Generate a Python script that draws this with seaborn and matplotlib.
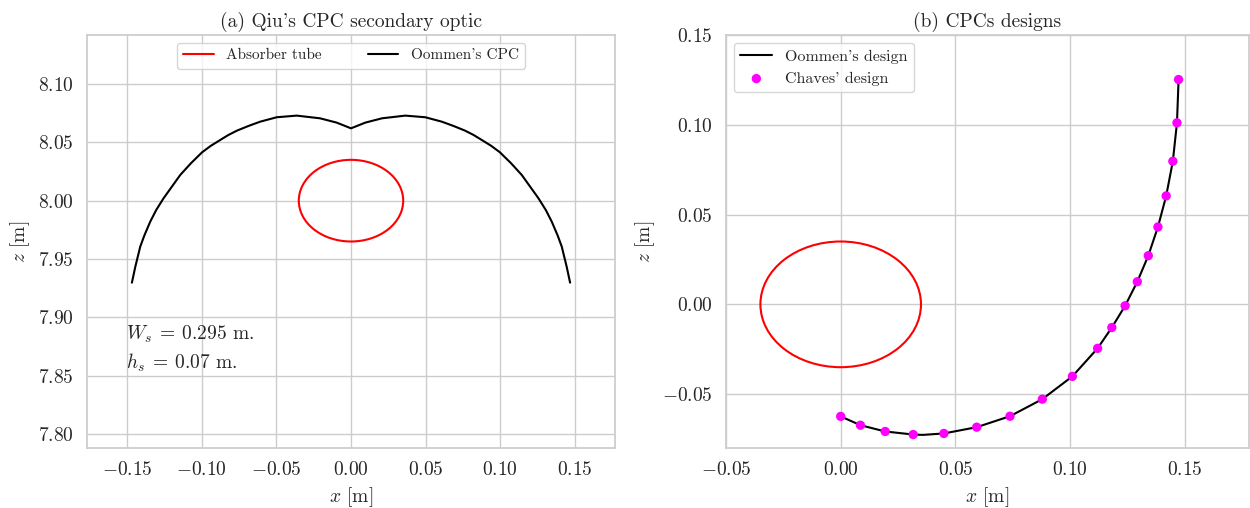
import numpy as np
import pandas as pd
import matplotlib
matplotlib.use("Agg")
import matplotlib.pyplot as plt
from matplotlib.patches import Circle
from matplotlib.lines import Line2D
import seaborn as sns

# ---------------- data ----------------
tube_center_a = (0.0, 8.0)
tube_radius = 0.035
tube_center_b = (0.0, 0.0)

cpc_a_x = [-0.1469, -0.1446, -0.1413, -0.1386, -0.1346, -0.1306, -0.1257, -0.1201,
           -0.1145, -0.1073, -0.0998, -0.0940, -0.0877, -0.0822, -0.0765, -0.0688,
           -0.0609, -0.0498, -0.0364, -0.0208, -0.0096, 0.0,
           0.0096, 0.0208, 0.0364, 0.0498, 0.0609, 0.0688, 0.0765, 0.0822,
           0.0877, 0.0940, 0.0998, 0.1073, 0.1145, 0.1201, 0.1257, 0.1306,
           0.1346, 0.1386, 0.1413, 0.1446, 0.1469]
cpc_a_z = [7.9297, 7.9434, 7.9606, 7.9700, 7.9820, 7.9920, 8.0020, 8.0120,
           8.0220, 8.0321, 8.0415, 8.0470, 8.0520, 8.0563, 8.0600, 8.0640,
           8.0677, 8.0715, 8.0729, 8.0706, 8.0669, 8.0620,
           8.0669, 8.0706, 8.0729, 8.0715, 8.0677, 8.0640, 8.0600, 8.0563,
           8.0520, 8.0470, 8.0415, 8.0321, 8.0220, 8.0120, 8.0020, 7.9920,
           7.9820, 7.9700, 7.9606, 7.9434, 7.9297]

oommen_x = [0.0, 0.0086, 0.0194, 0.0316, 0.0358, 0.0450, 0.0593, 0.0738, 0.0879,
            0.1010, 0.1120, 0.1182, 0.1240, 0.1293, 0.1341, 0.1383, 0.1419,
            0.1448, 0.1466, 0.1473]
oommen_z = [-0.0624, -0.0673, -0.0708, -0.0725, -0.0727, -0.0719, -0.0684, -0.0623,
            -0.0528, -0.0401, -0.0245, -0.0129, -0.0008, 0.0126, 0.0271, 0.0431,
            0.0604, 0.0797, 0.1011, 0.1252]

chaves_x = [0.0, 0.0086, 0.0194, 0.0316, 0.0450, 0.0593, 0.0738, 0.0879, 0.1010,
            0.1120, 0.1182, 0.1240, 0.1293, 0.1341, 0.1383, 0.1419, 0.1448,
            0.1466, 0.1473]
chaves_z = [-0.0624, -0.0673, -0.0708, -0.0725, -0.0719, -0.0684, -0.0623, -0.0528,
            -0.0401, -0.0245, -0.0129, -0.0008, 0.0126, 0.0271, 0.0431, 0.0604,
            0.0797, 0.1011, 0.1252]

# ---------------- style ----------------
sns.set_theme(style="whitegrid")
plt.rcParams["font.family"] = ["serif"]
plt.rcParams["font.serif"] = ["cmr10", "DejaVu Serif"]
plt.rcParams["mathtext.fontset"] = "cm"
plt.rcParams["axes.formatter.use_mathtext"] = True
plt.rcParams["axes.unicode_minus"] = True

fig = plt.figure(figsize=(12.5, 5.08), dpi=100)
ax1 = fig.add_axes([87 / 1250, 1 - 448 / 508, (615 - 87) / 1250, (448 - 35) / 508])
ax2 = fig.add_axes([726 / 1250, 1 - 448 / 508, (1249 - 726) / 1250, (448 - 35) / 508])

FS = 14

# ---- panel (a) ----
ax1.add_patch(Circle(tube_center_a, tube_radius, fill=False, ec="red", lw=1.5))
df_a = pd.DataFrame({"x": cpc_a_x, "z": cpc_a_z})
sns.lineplot(data=df_a, x="x", y="z", sort=False, color="black", lw=1.5, ax=ax1)
ax1.set_xlim(-0.177, 0.177)
ax1.set_ylim(7.788, 8.142)
ax1.set_xticks([-0.15, -0.10, -0.05, 0.00, 0.05, 0.10, 0.15])
ax1.set_yticks([7.80, 7.85, 7.90, 7.95, 8.00, 8.05, 8.10])
ax1.set_xticklabels(["$-0.15$", "$-0.10$", "$-0.05$", "$0.00$", "$0.05$", "$0.10$", "$0.15$"])
ax1.set_yticklabels(["$7.80$", "$7.85$", "$7.90$", "$7.95$", "$8.00$", "$8.05$", "$8.10$"])
ax1.set_xlabel("$x$ [m]", fontsize=FS)
ax1.set_ylabel("$z$ [m]", fontsize=FS)
ax1.set_title("(a) Qiu's CPC secondary optic", fontsize=FS)
ax1.tick_params(labelsize=FS)
handles_a = [Line2D([], [], color="red", lw=1.5), Line2D([], [], color="black", lw=1.5)]
ax1.legend(handles_a, ["Absorber tube", "Oommen's CPC"], loc="upper center", ncol=2,
           fontsize=11, frameon=True, columnspacing=3.0)
ax1.text(-0.151, 7.873, "$W_s\\:=\\:0.295$ m.\n$h_s\\:=\\:0.07$ m.", fontsize=FS,
         ha="left", va="center", linespacing=1.35)

# ---- panel (b) ----
ax2.add_patch(Circle(tube_center_b, tube_radius, fill=False, ec="red", lw=1.5))
df_o = pd.DataFrame({"x": oommen_x, "z": oommen_z})
df_c = pd.DataFrame({"x": chaves_x, "z": chaves_z})
sns.lineplot(data=df_o, x="x", y="z", sort=False, color="black", lw=1.5, ax=ax2,
             label="Oommen's design")
sns.scatterplot(data=df_c, x="x", y="z", color="#ff00ff", s=45, edgecolor="none",
                ax=ax2, label="Chaves' design", zorder=3)
ax2.set_xlim(-0.05, 0.178)
ax2.set_ylim(-0.080, 0.150)
ax2.set_xticks([-0.05, 0.00, 0.05, 0.10, 0.15])
ax2.set_yticks([-0.05, 0.00, 0.05, 0.10, 0.15])
ax2.set_xticklabels(["$-0.05$", "$0.00$", "$0.05$", "$0.10$", "$0.15$"])
ax2.set_yticklabels(["$-0.05$", "$0.00$", "$0.05$", "$0.10$", "$0.15$"])
ax2.set_xlabel("$x$ [m]", fontsize=FS)
ax2.set_ylabel("$z$ [m]", fontsize=FS)
ax2.set_title("(b) CPCs designs", fontsize=FS)
ax2.tick_params(labelsize=FS)
ax2.legend(loc="upper left", fontsize=11.5, frameon=True)

for ax in (ax1, ax2):
    for s in ax.spines.values():
        s.set_color("#cccccc")
        s.set_linewidth(1.25)

fig.savefig("out.png", dpi=100)
